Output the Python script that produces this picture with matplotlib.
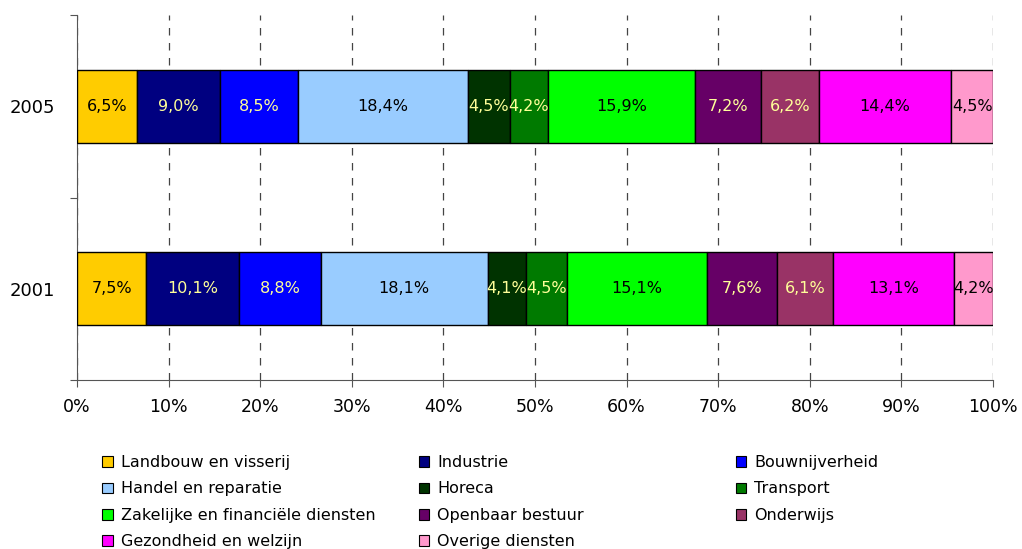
import matplotlib.pyplot as plt
import numpy as np
from matplotlib.patches import Patch

plt.rcParams['font.family'] = ['DejaVu Sans']

years = ['2001', '2005']
sectoren = ['Landbouw en visserij', 'Industrie', 'Bouwnijverheid',
            'Handel en reparatie', 'Horeca', 'Transport',
            'Zakelijke en financiële diensten', 'Openbaar bestuur', 'Onderwijs',
            'Gezondheid en welzijn', 'Overige diensten']
waarden_2001 = [7.5, 10.1, 8.8, 18.1, 4.1, 4.5, 15.1, 7.6, 6.1, 13.1, 4.2]
waarden_2005 = [6.5, 9.0, 8.5, 18.4, 4.5, 4.2, 15.9, 7.2, 6.2, 14.4, 4.5]

kleuren = ['#FFCC00', '#000080', '#0000FF', '#99CCFF', '#003300', '#007A00',
           '#00FF00', '#660066', '#993366', '#FF00FF', '#FF99CC']
# licht label op donkere vlakken
label_kleur = ['black', '#FFFF99', '#FFFF99', 'black', '#FFFF99', '#FFFF99',
               'black', '#FFFF99', '#FFFF99', 'black', 'black']

fig = plt.figure(figsize=(10.22, 5.49), dpi=100)
ax = fig.add_axes([0.0753, 0.3078, 0.8963, 0.6649])

data = np.array([waarden_2001, waarden_2005])
pct = data / data.sum(axis=1, keepdims=True) * 100
ypos = np.array([0.5, 1.5])

links = np.zeros(2)
for i in range(len(sectoren)):
    ax.barh(ypos, pct[:, i], left=links, height=0.4, color=kleuren[i],
            edgecolor='black', linewidth=1, zorder=3)
    for j in range(2):
        ax.text(links[j] + pct[j, i] / 2, ypos[j],
                f"{data[j, i]:.1f}%".replace('.', ','),
                ha='center', va='center', fontsize=11.5,
                color=label_kleur[i], zorder=4)
    links += pct[:, i]

ax.set_xlim(0, 100)
ax.set_ylim(0, 2)
ax.set_xticks(np.arange(0, 101, 10))
ax.set_xticklabels([f"{v}%" for v in range(0, 101, 10)], fontsize=12.5)
ax.set_yticks([0, 1, 2])
ax.set_yticklabels([])
ax.set_yticks(ypos, minor=True)
ax.set_yticklabels(years, minor=True, fontsize=13)
ax.tick_params(axis='y', which='minor', length=0, pad=16)
ax.tick_params(axis='y', which='major', length=5, color='#555555')
ax.tick_params(axis='x', length=5, color='#555555', pad=8)
ax.xaxis.grid(True, linestyle=(0, (6, 6)), color='#444444', linewidth=0.9, zorder=0)
for s in ['top', 'right']:
    ax.spines[s].set_visible(False)
ax.spines['left'].set_color('#555555')
ax.spines['bottom'].set_color('#555555')

handles = [Patch(facecolor=kleuren[i], edgecolor='black', linewidth=0.8)
           for i in range(len(sectoren))]
kol_x = [0.1, 0.41, 0.72]
for k in range(3):
    idx = list(range(k, len(sectoren), 3))
    fig.legend([handles[i] for i in idx], [sectoren[i] for i in idx],
               loc='upper left', bbox_to_anchor=(kol_x[k], 0.171),
               frameon=False, fontsize=11.5, handlelength=0.65,
               handleheight=0.65, handletextpad=0.5, labelspacing=0.71,
               borderaxespad=0, borderpad=0)

fig.savefig('out.png', dpi=100)
